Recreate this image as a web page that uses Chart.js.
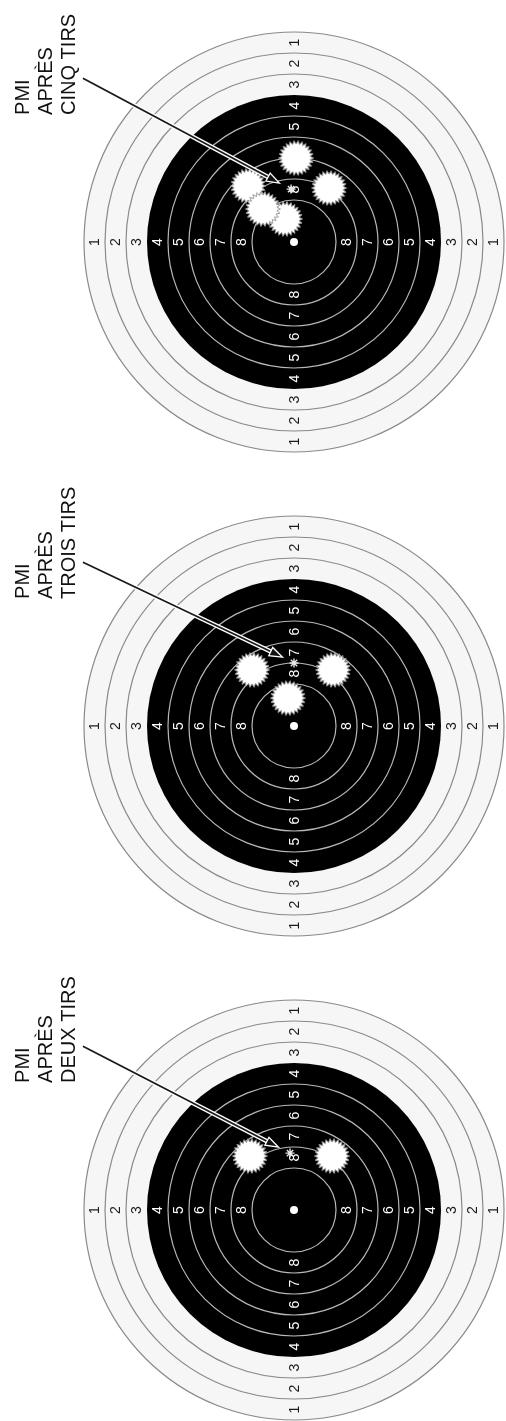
<!DOCTYPE html>
<html>
<head>
<meta charset="utf-8">
<script src="https://cdn.jsdelivr.net/npm/chart.js@4.4.0/dist/chart.umd.min.js"></script>
<style>
  html, body { margin: 0; padding: 0; background: #fff; overflow: hidden; }
  canvas { display: block; }
</style>
</head>
<body>
<canvas id="t1" width="506" height="484"></canvas>
<canvas id="t2" width="506" height="484"></canvas>
<canvas id="t3" width="506" height="484"></canvas>
<script>
// one unit = one ring width
const zoneScores = [1, 2, 3, 4, 5, 6, 7, 8]
const ringRadii = [10, 9, 8, 7, 6, 5, 4, 3, 2]
const blackFrom = 7

const titles = [
  ['PMI', 'APRÈS', 'CINQ TIRS'],
  ['PMI', 'APRÈS', 'TROIS TIRS'],
  ['PMI', 'APRÈS', 'DEUX TIRS']
]

// impacts, in ring units from the centre (y up)
const shotsFive = [
  { x: 0.10, y: 4.00 },
  { x: 1.67, y: 2.57 },
  { x: -2.19, y: 2.67 },
  { x: -0.43, y: 1.10 },
  { x: -1.48, y: 1.57 }
]
const shotsThree = [
  { x: -2.00, y: 2.67 },
  { x: 1.86, y: 2.67 },
  { x: -0.29, y: 1.33 }
]
const shotsTwo = [
  { x: -2.10, y: 2.57 },
  { x: 1.81, y: 2.57 }
]
const pmiFive = [{ x: -0.14, y: 2.52 }]
const pmiThree = [{ x: 0.00, y: 3.00 }]
const pmiTwo = [{ x: -0.19, y: 2.71 }]

function burst () {
  const c = document.createElement('canvas')
  c.width = 38
  c.height = 38
  const g = c.getContext('2d')
  const spikes = 26
  g.beginPath()
  for (let i = 0; i < spikes * 2; i++) {
    const r = i % 2 ? 14 : 17.5
    const a = (i / (spikes * 2)) * Math.PI * 2
    g.lineTo(19 + r * Math.cos(a), 19 + r * Math.sin(a))
  }
  g.closePath()
  g.fillStyle = '#fff'
  g.fill()
  g.strokeStyle = '#9a9a9a'
  g.lineWidth = 1
  g.stroke()
  return c
}
const burstImg = burst()

const targetFace = {
  id: 'targetFace',
  beforeDatasetsDraw (chart) {
    const { ctx, scales: { x, y } } = chart
    const cx = x.getPixelForValue(0)
    const cy = y.getPixelForValue(0)
    const px = v => x.getPixelForValue(v) - cx
    ctx.save()
    ctx.beginPath()
    ctx.arc(cx, cy, px(ringRadii[0]), 0, Math.PI * 2)
    ctx.fillStyle = '#f6f6f6'
    ctx.fill()
    ctx.beginPath()
    ctx.arc(cx, cy, px(blackFrom), 0, Math.PI * 2)
    ctx.fillStyle = '#000'
    ctx.fill()
    ringRadii.forEach(r => {
      if (r === blackFrom) return
      ctx.beginPath()
      ctx.arc(cx, cy, px(r), 0, Math.PI * 2)
      ctx.strokeStyle = r > blackFrom ? '#8a8a8a' : '#b8b8b8'
      ctx.lineWidth = 1.2
      ctx.stroke()
    })
    // ring numbers, rotated like the page
    ctx.font = '14px "Liberation Sans", Arial, sans-serif'
    ctx.textAlign = 'center'
    ctx.textBaseline = 'middle'
    zoneScores.forEach((n, i) => {
      const m = ringRadii[i] - 0.5
      ctx.fillStyle = ringRadii[i] > blackFrom ? '#1a1a1a' : '#fff'
      ;[[-m, 0], [m, 0], [0, m], [0, -m]].forEach(([dx, dy]) => {
        ctx.save()
        ctx.translate(x.getPixelForValue(dx), y.getPixelForValue(dy))
        ctx.rotate(-Math.PI / 2)
        ctx.fillText(String(n), 0, 1)
        ctx.restore()
      })
    })
    ctx.restore()
  },
  afterDatasetsDraw (chart, args, opts) {
    const { ctx, scales: { x, y } } = chart
    ctx.save()
    // title, rotated
    ctx.font = '20px "Liberation Sans", Arial, sans-serif'
    ctx.fillStyle = '#111'
    ctx.textAlign = 'left'
    ctx.textBaseline = 'alphabetic'
    const lineX = [-12.62, -11.52, -10.43]
    opts.title.forEach((t, i) => {
      ctx.save()
      ctx.translate(x.getPixelForValue(lineX[i]), y.getPixelForValue(6.05))
      ctx.rotate(-Math.PI / 2)
      ctx.fillText(t, 0, 0)
      ctx.restore()
    })
    // arrow to the PMI
    const p = opts.pmi
    const x0 = x.getPixelForValue(-10.05)
    const y0 = y.getPixelForValue(7.8)
    const x1 = x.getPixelForValue(p.x - 0.55)
    const y1 = y.getPixelForValue(p.y + 0.28)
    const ang = Math.atan2(y1 - y0, x1 - x0)
    const hl = 13
    const hw = 4.5
    const bx = x1 - hl * Math.cos(ang)
    const by = y1 - hl * Math.sin(ang)
    ctx.lineCap = 'butt'
    ctx.beginPath()
    ctx.moveTo(x0, y0)
    ctx.lineTo(bx, by)
    ctx.strokeStyle = '#fff'
    ctx.lineWidth = 4.5
    ctx.stroke()
    ctx.strokeStyle = '#1a1a1a'
    ctx.lineWidth = 1.8
    ctx.stroke()
    ctx.beginPath()
    ctx.moveTo(x1, y1)
    ctx.lineTo(bx - hw * Math.sin(ang), by + hw * Math.cos(ang))
    ctx.lineTo(bx + hw * Math.sin(ang), by - hw * Math.cos(ang))
    ctx.closePath()
    ctx.fillStyle = '#111'
    ctx.fill()
    ctx.strokeStyle = '#fff'
    ctx.lineWidth = 1.3
    ctx.stroke()
    ctx.restore()
  }
}

function drawTarget (id, title, shots, pmi) {
  const canvas = document.getElementById(id)
  return new Chart(canvas, {
    type: 'scatter',
    data: {
      datasets: [
        {
          data: pmi,
          pointStyle: 'star',
          radius: 4.5,
          borderColor: '#e8e8e8',
          borderWidth: 1.4,
          backgroundColor: '#fff'
        },
        {
          data: shots,
          pointStyle: burstImg
        },
        {
          data: [{ x: 0, y: 0 }],
          pointStyle: 'circle',
          radius: 4,
          backgroundColor: '#fff',
          borderWidth: 0
        }
      ]
    },
    options: {
      responsive: false,
      animation: false,
      events: [],
      layout: { padding: 0, autoPadding: false },
      scales: {
        x: { type: 'linear', min: -14, max: 10.095, display: false },
        y: { type: 'linear', min: -11.524, max: 11.524, display: false }
      },
      plugins: {
        legend: { display: false },
        tooltip: { enabled: false },
        targetFace: { title, pmi: pmi[0] }
      }
    },
    plugins: [targetFace]
  })
}

drawTarget('t1', titles[0], shotsFive, pmiFive)
drawTarget('t2', titles[1], shotsThree, pmiThree)
drawTarget('t3', titles[2], shotsTwo, pmiTwo)
</script>
</body>
</html>
